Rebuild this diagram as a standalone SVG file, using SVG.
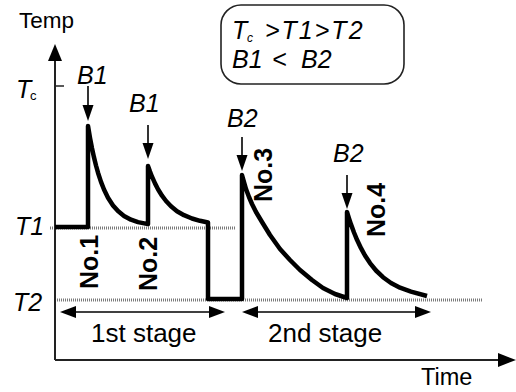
<svg xmlns="http://www.w3.org/2000/svg" width="516" height="392" viewBox="0 0 516 392">
<defs>
<style>
text{font-family:"Liberation Sans",Arial,sans-serif;fill:#000}
.it{font-style:italic}
.no{font-weight:bold;font-size:25px;text-anchor:middle}
.axis{stroke:#222;stroke-width:2;fill:none}
.ref{stroke:#7a7a7a;stroke-width:3;stroke-dasharray:1 1;fill:none}
.curve{stroke:#000;stroke-width:4.5;fill:none;stroke-linejoin:round;stroke-linecap:butt}
.thin{stroke:#000;stroke-width:1.6;fill:none}
.head{fill:#000}
</style>
</defs>
<rect width="516" height="392" fill="#fff"/>
<g id="reference-lines">
<line class="ref" x1="50" y1="228" x2="235" y2="228"/>
<line class="ref" x1="55" y1="300" x2="483" y2="300"/>
</g>
<g id="axes">
<line class="axis" x1="55" y1="360" x2="55" y2="58"/>
<polygon class="head" points="55,44 48,61 62,61"/>
<line class="axis" x1="55" y1="360" x2="500" y2="360"/>
<polygon class="head" points="516,360 498,353 498,367"/>
<line class="axis" x1="55" y1="86" x2="64" y2="86" style="stroke-width:1.5"/>
<text x="19" y="28" font-size="22.5">Temp</text>
<text x="421" y="385" font-size="23.5">Time</text>
<text x="16" y="98" font-size="25" class="it">T</text>
<text x="30" y="100" font-size="13">c</text>
<text x="15" y="235" font-size="25" class="it">T1</text>
<text x="13" y="311" font-size="25" class="it">T2</text>
</g>
<g id="temperature-curve">
<path class="curve" d="M55,227 H88 V126 L90,137.8 92,148.2 94,157.4 96,165.5 98,172.7 101,181.9 104,189.5 108,197.7 113,205.4 118,211.1 124,215.9 131,219.7 138,222.1 148,224.1 V166 L150,171.6 152,176.7 155,183.4 158,189.2 162,195.7 166,201 171,206.3 177,211.2 184,215.2 192,218.5 200,220.8 208,222.5 V299 H242 V175 L244,182 246,189 249,197 252,204 256,212 262,222 270,235 280,249 290,260 300,270 312,280 323,288 335,294 347,298 V212 L349,218.4 351,224.4 354,232.5 357,239.8 361,248.2 365,255.5 370,263.1 376,270.5 383,277.2 391,283 400,287.7 411,291.6 427,296"/>
</g>
<g id="connectors">
<g id="arrow-b1-1"><line class="thin" x1="88" y1="86" x2="88" y2="108"/><polygon class="head" points="82.5,105 93.5,105 88,121"/></g>
<g id="arrow-b1-2"><line class="thin" x1="148" y1="125" x2="148" y2="146"/><polygon class="head" points="142.5,143 153.5,143 148,159"/></g>
<g id="arrow-b2-3"><line class="thin" x1="242" y1="137" x2="242" y2="158"/><polygon class="head" points="236.5,155 247.5,155 242,171"/></g>
<g id="arrow-b2-4"><line class="thin" x1="347" y1="175" x2="347" y2="196"/><polygon class="head" points="341.5,193 352.5,193 347,209"/></g>
<g id="stage1-arrow"><line class="thin" x1="70" y1="312" x2="215" y2="312"/><polygon class="head" points="60,312 76,306 76,318"/><polygon class="head" points="225,312 209,306 209,318"/></g>
<g id="stage2-arrow"><line class="thin" x1="252" y1="312" x2="421" y2="312"/><polygon class="head" points="242,312 258,306 258,318"/><polygon class="head" points="431,312 415,306 415,318"/></g>
</g>
<g id="labels">
<text x="77" y="84" font-size="25" class="it">B1</text>
<text x="129" y="112" font-size="25" class="it">B1</text>
<text x="227" y="127" font-size="25" class="it">B2</text>
<text x="333" y="162" font-size="25" class="it">B2</text>
<text class="no" transform="translate(98,262) rotate(-90)">No.1</text>
<text class="no" transform="translate(157,264) rotate(-90)">No.2</text>
<text class="no" transform="translate(272,175) rotate(-90)">No.3</text>
<text class="no" transform="translate(385,210) rotate(-90)">No.4</text>
<text x="91" y="342" font-size="26">1st stage</text>
<text x="268" y="342" font-size="26">2nd stage</text>
</g>
<g id="legend-box">
<rect x="221" y="5" width="183" height="79" rx="20" ry="20" fill="none" stroke="#222" stroke-width="1.6"/>
<text x="232" y="39" font-size="25" class="it">T</text>
<text x="247" y="42" font-size="12" class="it">c</text>
<text x="265" y="39" font-size="25" class="it" letter-spacing="2">&gt;T1&gt;T2</text>
<text x="232" y="68" font-size="25" class="it">B1</text>
<text x="272" y="68" font-size="25" class="it">&lt;</text>
<text x="301" y="68" font-size="25" class="it">B2</text>
</g>
</svg>
